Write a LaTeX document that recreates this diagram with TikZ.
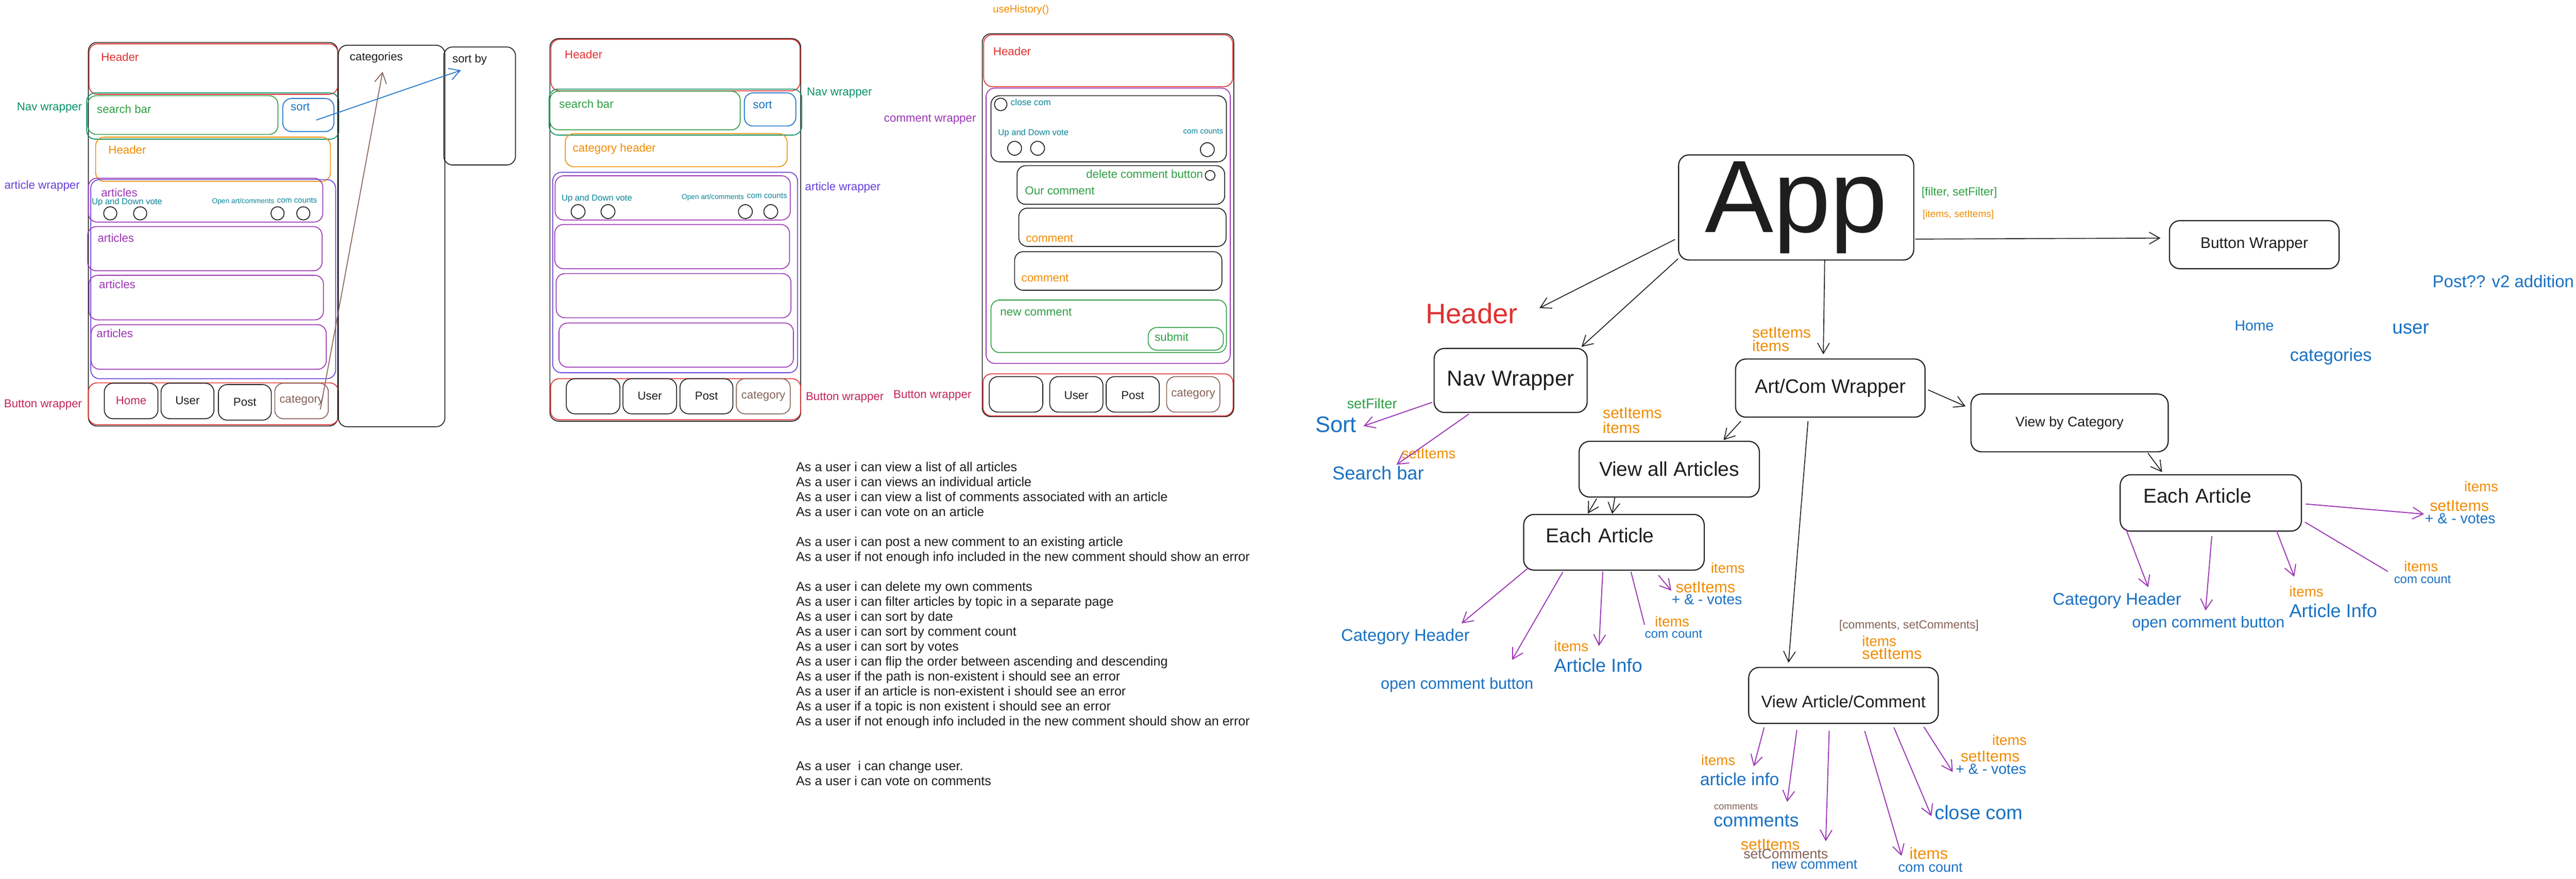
\documentclass[tikz,border=0pt]{standalone}
\usepackage{fontspec}
\setmainfont{Liberation Sans}
\usetikzlibrary{arrows.meta}
\definecolor{inkc}{HTML}{1E1E1E}
\definecolor{xred}{HTML}{E03131}
\definecolor{xgreen}{HTML}{2F9E44}
\definecolor{xteal}{HTML}{099268}
\definecolor{xblue}{HTML}{1971C2}
\definecolor{xorange}{HTML}{F08C00}
\definecolor{xviolet}{HTML}{6741D9}
\definecolor{xgrape}{HTML}{9C36B5}
\definecolor{xpink}{HTML}{C2255C}
\definecolor{xbrown}{HTML}{846358}
\definecolor{xcyan}{HTML}{0C8599}
\newcommand{\fsz}[1]{\fontsize{#1}{#1}\selectfont}
\begin{document}
\begin{tikzpicture}[
  wf/.style={line width=0.7pt, rounded corners=0.25cm},
  lbl/.style={anchor=west, inner sep=0pt, font=\fsz{9.4}},
  btn/.style={inner sep=0pt, font=\fsz{9.4}},
  tl/.style={anchor=west, inner sep=0pt},
  tbox/.style={draw=inkc, line width=0.9pt, rounded corners=0.3cm, inner sep=0pt, text=inkc},
  arr/.style={-{Straight Barb[length=3mm,width=3.4mm]}, line width=0.7pt, draw=inkc},
  parr/.style={arr, draw=xgrape, line width=0.8pt}]
\fill[white] (0,0) rectangle (74.06,-25.25);
\useasboundingbox (0,0) rectangle (74.06,-25.25);

% screen 1: article list
\draw[wf,inkc] (2.54,-1.22) rectangle (9.71,-12.24);
\draw[wf,xred] (2.56,-1.26) rectangle (9.71,-2.71);
\draw[wf,xteal] (2.49,-2.67) rectangle (9.74,-4.00);
\draw[wf,xgreen] (2.52,-2.75) rectangle (7.99,-3.86);
\draw[wf,xblue] (8.13,-2.83) rectangle (9.60,-3.78);
\draw[wf,xorange] (2.75,-3.94) rectangle (9.50,-5.21);
\draw[wf,xviolet] (2.61,-5.16) rectangle (9.65,-10.88);
\draw[wf,xgrape] (2.54,-5.12) rectangle (9.28,-6.38);
\draw[wf,xgrape] (2.52,-6.51) rectangle (9.26,-7.78);
\draw[wf,xgrape] (2.56,-7.91) rectangle (9.30,-9.19);
\draw[wf,xgrape] (2.62,-9.33) rectangle (9.38,-10.61);
\draw[wf,xred] (2.54,-11.00) rectangle (9.73,-12.20);
\draw[wf,inkc] (3.00,-11.01) rectangle (4.54,-12.03);
\draw[wf,inkc] (4.63,-11.01) rectangle (6.15,-12.03);
\draw[wf,inkc] (6.28,-11.05) rectangle (7.80,-12.07);
\draw[wf,xbrown] (7.90,-11.01) rectangle (9.44,-12.03);
\draw[wf,inkc] (9.73,-1.30) rectangle (12.79,-12.26);
\draw[wf,inkc] (12.76,-1.35) rectangle (14.82,-4.74);
\foreach \x in {3.17,4.03,7.98,8.72} \draw[inkc,line width=0.7pt] (\x,-6.13) circle (0.19);
\node[lbl,xred] (s1hdr) at (2.90,-1.64) {Header};
\node[lbl,xgreen] (s1srch) at (2.78,-3.13) {search bar};
\node[lbl,xblue] (s1sort) at (8.35,-3.07) {sort};
\node[lbl,xteal] (s1nav) at (0.48,-3.10) {Nav wrapper};
\node[lbl,xorange] (s1ahdr) at (3.11,-4.30) {Header};
\node[lbl,xviolet] (s1artw) at (0.12,-5.35) {article wrapper};
\node[lbl,xgrape] (s1art1) at (2.90,-5.53) {articles};
\node[lbl,xcyan,font=\fsz{7}] (s1vote) at (2.63,-5.81) {Up and Down vote};
\node[lbl,xcyan,font=\fsz{5.8}] (s1open) at (6.09,-5.79) {Open art/comments};
\node[lbl,xcyan,font=\fsz{6.4}] (s1cc) at (7.96,-5.75) {com counts};
\node[lbl,xgrape] (s1art2) at (2.80,-6.84) {articles};
\node[lbl,xgrape] (s1art3) at (2.84,-8.17) {articles};
\node[lbl,xgrape] (s1art4) at (2.77,-9.58) {articles};
\node[lbl,xpink] (s1btnw) at (0.11,-11.63) {Button wrapper};
\node[btn,xpink] (s1home) at (3.77,-11.51) {Home};
\node[btn,inkc] (s1user) at (5.39,-11.51) {User};
\node[btn,inkc] (s1post) at (7.04,-11.55) {Post};
\node[btn,xbrown] (s1cat) at (8.67,-11.51) {category};
\node[lbl,inkc] (s1cats) at (10.05,-1.66) {categories};
\node[lbl,inkc] (s1sortby) at (13.00,-1.72) {sort by};
\coordinate (s1a) at (9.09,-3.45);
\coordinate (s1b) at (13.25,-2.02);
\draw[arr,xblue] (s1a) -- (s1b);
\coordinate (s1c) at (9.21,-11.76);
\coordinate (s1d) at (11.00,-2.06);
\draw[arr,xbrown] (s1c) -- (s1d);

% screen 2: by category
\draw[wf,inkc] (15.81,-1.11) rectangle (23.02,-12.10);
\draw[wf,xred] (15.84,-1.13) rectangle (23.00,-2.61);
\draw[wf,xteal] (15.79,-2.56) rectangle (23.05,-3.88);
\draw[wf,xgreen] (15.81,-2.62) rectangle (21.28,-3.73);
\draw[wf,xblue] (21.40,-2.67) rectangle (22.88,-3.62);
\draw[wf,xorange] (16.25,-3.84) rectangle (22.63,-4.79);
\draw[wf,xviolet] (15.89,-4.95) rectangle (22.93,-10.71);
\draw[wf,xgrape] (15.96,-5.05) rectangle (22.72,-6.32);
\draw[wf,xgrape] (15.95,-6.45) rectangle (22.70,-7.72);
\draw[wf,xgrape] (15.99,-7.86) rectangle (22.74,-9.13);
\draw[wf,xgrape] (16.07,-9.28) rectangle (22.81,-10.55);
\draw[wf,xred] (15.83,-10.88) rectangle (23.02,-12.06);
\draw[wf,inkc] (16.28,-10.88) rectangle (17.82,-11.89);
\draw[wf,inkc] (17.91,-10.88) rectangle (19.45,-11.89);
\draw[wf,inkc] (19.55,-10.88) rectangle (21.07,-11.89);
\draw[wf,xbrown] (21.17,-10.88) rectangle (22.72,-11.89);
\foreach \x in {16.62,17.48,21.43,22.16} \draw[inkc,line width=0.7pt] (\x,-6.08) circle (0.2);
\node[lbl,xred] (s2hdr) at (16.23,-1.57) {Header};
\node[lbl,xgreen] (s2srch) at (16.07,-2.98) {search bar};
\node[lbl,xblue] (s2sort) at (21.64,-3.02) {sort};
\node[lbl,xteal] (s2nav) at (23.19,-2.67) {Nav wrapper};
\node[lbl,xorange] (s2chdr) at (16.46,-4.27) {category header};
\node[lbl,xviolet] (s2artw) at (23.14,-5.39) {article wrapper};
\node[lbl,xcyan,font=\fsz{7}] (s2vote) at (16.14,-5.70) {Up and Down vote};
\node[lbl,xcyan,font=\fsz{5.8}] (s2open) at (19.59,-5.67) {Open art/comments};
\node[lbl,xcyan,font=\fsz{6.4}] (s2cc) at (21.47,-5.63) {com counts};
\node[lbl,xpink] (s2btnw) at (23.16,-11.42) {Button wrapper};
\node[btn,inkc] (s2user) at (18.68,-11.38) {User};
\node[btn,inkc] (s2post) at (20.31,-11.38) {Post};
\node[btn,xbrown] (s2cat) at (21.945,-11.38) {category};

% screen 3: article and comments
\node[lbl,xorange,font=\fsz{8.5}] (s3hist) at (28.54,-0.29) {useHistory()};
\draw[wf,inkc] (28.24,-0.97) rectangle (35.47,-11.97);
\draw[wf,xred] (28.28,-1.00) rectangle (35.44,-2.49);
\draw[wf,xgrape] (28.35,-2.53) rectangle (35.37,-10.44);
\draw[wf,inkc] (28.49,-2.75) rectangle (35.26,-4.65);
\draw[wf,inkc] (29.24,-4.76) rectangle (35.21,-5.87);
\draw[wf,inkc] (29.29,-5.98) rectangle (35.25,-7.08);
\draw[wf,inkc] (29.17,-7.23) rectangle (35.13,-8.34);
\draw[wf,xgreen] (28.49,-8.62) rectangle (35.26,-10.13);
\draw[wf,xgreen] (33.01,-9.41) rectangle (35.17,-10.06);
\draw[wf,xred] (28.26,-10.74) rectangle (35.45,-11.95);
\draw[wf,inkc] (28.44,-10.82) rectangle (29.98,-11.84);
\draw[wf,inkc] (30.18,-10.82) rectangle (31.71,-11.84);
\draw[wf,inkc] (31.80,-10.82) rectangle (33.33,-11.84);
\draw[wf,xbrown] (33.54,-10.82) rectangle (35.07,-11.84);
\draw[inkc,line width=0.7pt] (28.77,-3.00) circle (0.18);
\foreach \x/\y in {29.17/-4.26,29.83/-4.26,34.71/-4.30} \draw[inkc,line width=0.7pt] (\x,\y) circle (0.2);
\draw[inkc,line width=0.7pt] (34.79,-5.04) circle (0.14);
\node[lbl,xred] (s3hdr) at (28.55,-1.47) {Header};
\node[lbl,xgrape] (s3cw) at (25.41,-3.43) {comment wrapper};
\node[lbl,xcyan,font=\fsz{7.3}] (s3close) at (29.05,-2.93) {close com};
\node[lbl,xcyan,font=\fsz{7}] (s3vote) at (28.69,-3.83) {Up and Down vote};
\node[lbl,xcyan,font=\fsz{6.4}] (s3cc) at (34.01,-3.77) {com counts};
\node[lbl,xgreen] (s3del) at (31.22,-5.00) {delete comment button};
\node[lbl,xgreen] (s3our) at (29.46,-5.48) {Our comment};
\node[lbl,xorange] (s3com1) at (29.49,-6.85) {comment};
\node[lbl,xorange] (s3com2) at (29.36,-7.99) {comment};
\node[lbl,xgreen] (s3new) at (28.75,-8.96) {new comment};
\node[lbl,xgreen] (s3sub) at (33.19,-9.68) {submit};
\node[lbl,xpink] (s3btnw) at (25.68,-11.36) {Button wrapper};
\node[btn,inkc] (s3user) at (30.945,-11.36) {User};
\node[btn,inkc] (s3post) at (32.565,-11.36) {Post};
\node[btn,xbrown] (s3cat) at (34.305,-11.33) {category};

% user stories
\foreach \n/\s in {0/As a user i can view a list of all articles,
  1/As a user i can views an individual article,
  2/As a user i can view a list of comments associated with an article,
  3/As a user i can vote on an article,
  5/As a user i can post a new comment to an existing article,
  6/As a user if not enough info included in the new comment should show an error,
  8/As a user i can delete my own comments,
  9/As a user i can filter articles by topic in a separate page,
  10/As a user i can sort by date,
  11/As a user i can sort by comment count,
  12/As a user i can sort by votes,
  13/As a user i can flip the order between ascending and descending,
  14/As a user if the path is non-existent i should see an error,
  15/As a user if an article is non-existent i should see an error,
  16/As a user if a topic is non existent i should see an error,
  17/As a user if not enough info included in the new comment should show an error,
  20/As a user\ \ i can change user.,
  21/As a user i can vote on comments}
  \node[anchor=base west,inner sep=0pt,font=\fsz{10.6},inkc] (us\n) at (22.88,{-13.54-0.43*\n}) {\s};

% component tree
\node[tbox,minimum width=6.76cm,minimum height=3.02cm,font=\fsz{84}] (app) at (51.64,-5.96) {App};
\node[tbox,minimum width=4.88cm,minimum height=1.38cm,font=\fsz{12.6}] (btnw) at (64.81,-7.03) {Button Wrapper};
\node[tbox,minimum width=5.45cm,minimum height=1.67cm,font=\fsz{15.9}] (artcom) at (52.62,-11.15) {Art/Com Wrapper};
\node[tbox,minimum width=4.40cm,minimum height=1.84cm,font=\fsz{17.7}] (navw) at (43.43,-10.93) {Nav Wrapper};
\node[tbox,minimum width=5.18cm,minimum height=1.60cm,font=\fsz{16.4}] (viewall) at (47.99,-13.48) {View all Articles};
\node[tbox,minimum width=5.19cm,minimum height=1.60cm,font=\fsz{16.4},text width=3.91cm,align=left,text depth=0.4cm] (each1) at (46.40,-15.58) {Each Article};
\node[tbox,minimum width=5.45cm,minimum height=1.61cm,font=\fsz{13.7},text height=0.71cm] (viewac) at (53.00,-19.98) {View Article/Comment};
\node[tbox,minimum width=5.67cm,minimum height=1.66cm,font=\fsz{11.3}] (viewcat) at (59.50,-12.15) {View by Category};
\node[tbox,minimum width=5.21cm,minimum height=1.62cm,font=\fsz{16.4},text width=3.88cm,align=left,text depth=0.42cm] (each2) at (63.56,-14.45) {Each Article};

\node[tl,xred,font=\fsz{23}] (hdr) at (40.98,-9.01) {Header};
\node[tl,xgreen,font=\fsz{9.5}] (filt) at (55.24,-5.53) {[filter, setFilter]};
\node[tl,xorange,font=\fsz{8}] (itst) at (55.27,-6.17) {[items, setItems]};
\node[tl,xblue,font=\fsz{13.9}] (post) at (69.93,-8.08) {Post?? v2 addition};
\node[tl,xblue,font=\fsz{12}] (home) at (64.24,-9.36) {Home};
\node[tl,xblue,font=\fsz{15.5}] (user) at (68.77,-9.45) {user};
\node[tl,xblue,font=\fsz{14.5}] (cats) at (65.83,-10.25) {categories};
\node[tl,xorange,font=\fsz{12.7}] (acset) at (50.37,-9.56) {setItems};
\node[tl,xorange,font=\fsz{12.7}] (acit) at (50.37,-9.94) {items};
\node[tl,xgreen,font=\fsz{11.5}] (sfilt) at (38.72,-11.59) {setFilter};
\node[tl,xblue,font=\fsz{18.3}] (sort) at (37.81,-12.20) {Sort};
\node[tl,xorange,font=\fsz{11.7}] (srset) at (40.29,-13.03) {setItems};
\node[tl,xblue,font=\fsz{15.3}] (srch) at (38.30,-13.59) {Search bar};
\node[tl,xorange,font=\fsz{12.8}] (vaset) at (46.07,-11.86) {setItems};
\node[tl,xorange,font=\fsz{12.8}] (vait) at (46.07,-12.29) {items};

\node[tl,xorange,font=\fsz{11.6}] (e1it1) at (49.18,-16.32) {items};
\node[tl,xorange,font=\fsz{12.9}] (e1set) at (48.17,-16.87) {setItems};
\node[tl,xblue,font=\fsz{12}] (e1vote) at (48.05,-17.22) {+ \& - votes};
\node[tl,xorange,font=\fsz{11.8}] (e1it2) at (47.57,-17.85) {items};
\node[tl,xblue,font=\fsz{10.2}] (e1cc) at (47.28,-18.22) {com count};
\node[tl,xblue,font=\fsz{13.8}] (e1ch) at (38.55,-18.30) {Category Header};
\node[tl,xblue,font=\fsz{12.9}] (e1open) at (39.69,-19.68) {open comment button};
\node[tl,xorange,font=\fsz{11.8}] (e1it3) at (44.67,-18.56) {items};
\node[tl,xblue,font=\fsz{15.3}] (e1info) at (44.67,-19.11) {Article Info};

\node[tl,xbrown,font=\fsz{9.6}] (vcst) at (52.87,-17.97) {[comments, setComments]};
\node[tl,xorange,font=\fsz{11.7}] (vcit) at (53.53,-18.42) {items};
\node[tl,xorange,font=\fsz{12.9}] (vcset) at (53.53,-18.79) {setItems};
\node[tl,xorange,font=\fsz{11.7}] (vcit1) at (48.90,-21.84) {items};
\node[tl,xblue,font=\fsz{14.2}] (vcinfo) at (48.87,-22.38) {article info};
\node[tl,xbrown,font=\fsz{7.8}] (vccs) at (49.27,-23.17) {comments};
\node[tl,xblue,font=\fsz{15.1}] (vccom) at (49.26,-23.58) {comments};
\node[tl,xorange,font=\fsz{12.8}] (vcset1) at (50.04,-24.26) {setItems};
\node[tl,xbrown,font=\fsz{11.2}] (vcsetc) at (50.12,-24.53) {setComments};
\node[tl,xblue,font=\fsz{11.3}] (vcnew) at (50.92,-24.84) {new comment};
\node[tl,xorange,font=\fsz{13.2}] (vcit2) at (54.89,-24.52) {items};
\node[tl,xblue,font=\fsz{11.4}] (vccc) at (54.57,-24.92) {com count};
\node[tl,xblue,font=\fsz{16}] (vcclose) at (55.62,-23.34) {close com};
\node[tl,xorange,font=\fsz{11.8}] (vcit3) at (57.27,-21.26) {items};
\node[tl,xorange,font=\fsz{12.8}] (vcset2) at (56.36,-21.73) {setItems};
\node[tl,xblue,font=\fsz{12}] (vcvote) at (56.22,-22.10) {+ \& - votes};

\node[tl,xblue,font=\fsz{13.8}] (e2ch) at (59.01,-17.25) {Category Header};
\node[tl,xblue,font=\fsz{12.9}] (e2open) at (61.29,-17.92) {open comment button};
\node[tl,xorange,font=\fsz{11.7}] (e2it1) at (65.81,-17.00) {items};
\node[tl,xblue,font=\fsz{15.2}] (e2info) at (65.81,-17.54) {Article Info};
\node[tl,xorange,font=\fsz{11.6}] (e2it2) at (69.11,-16.28) {items};
\node[tl,xblue,font=\fsz{10.1}] (e2cc) at (68.82,-16.65) {com count};
\node[tl,xorange,font=\fsz{11.6}] (e2it3) at (70.84,-13.98) {items};
\node[tl,xorange,font=\fsz{12.8}] (e2set) at (69.85,-14.53) {setItems};
\node[tl,xblue,font=\fsz{12}] (e2vote) at (69.71,-14.90) {+ \& - votes};

\coordinate (hdrtip) at (44.26,-8.85);
\draw[arr] ([shift={(-0.09,-0.92)}]app.west) -- (hdrtip);
\draw[arr] ([yshift=0.05cm]app.south west) -- ([shift={(-0.18,0.03)}]navw.north east);
\draw[arr] ([shift={(0.03,-0.91)}]app.east) -- ([shift={(-0.24,0.19)}]btnw.west);
\draw[arr] ([shift={(0.82,0.03)}]app.south) -- ([shift={(-0.2,0.12)}]artcom.north);
\draw[arr] ([shift={(0.17,-0.10)}]artcom.south west) -- ([shift={(1.56,0.02)}]viewall.north);
\draw[arr] ([shift={(-0.64,-0.10)}]artcom.south) -- ([shift={(-1.58,0.12)}]viewac.north);
\draw[arr] ([shift={(0.07,-0.05)}]artcom.east) -- ([shift={(-0.14,-0.37)}]viewcat.north west);
\draw[arr] ([shift={(0.52,-0.03)}]viewall.south west) -- ([shift={(1.86,0.01)}]each1.north west);
\draw[arr] ([shift={(1.04,0)}]viewall.south west) -- ([shift={(2.56,0)}]each1.north west);
\draw[arr] ([shift={(-0.60,-0.02)}]viewcat.south east) -- ([shift={(1.22,0.06)}]each2.north west);

\coordinate (sorttip) at (39.20,-12.24);
\draw[parr] ([shift={(-0.04,-0.63)}]navw.west) -- (sorttip);
\coordinate (srchtip) at (40.15,-13.35);
\draw[parr] ([shift={(-1.20,-0.03)}]navw.south) -- (srchtip);

\foreach \i/\sx/\sy/\tx/\ty in {1/0.15/0.08/42.02/-17.91, 2/1.14/-0.04/43.47/-18.96,
    3/2.29/-0.03/45.97/-18.56, 4/3.89/-0.13/48.05/-16.97}{
  \coordinate (e1t\i) at (\tx,\ty);
  \draw[parr] ([shift={(\sx,\sy)}]each1.south west) -- (e1t\i);
}
\coordinate (e1end) at (47.28,-17.95);
\draw[xgrape,line width=0.8pt] ([shift={(3.10,-0.03)}]each1.south west) -- (e1end);

\foreach \i/\sx/\sy/\tx/\ty in {1/0.46/-0.10/50.42/-22.02, 2/1.40/-0.17/51.38/-23.04,
    3/2.33/-0.19/52.49/-24.17, 4/3.35/-0.20/54.67/-24.59,
    5/4.19/-0.10/55.53/-23.45, 6/5.05/-0.08/56.14/-22.18}{
  \coordinate (vct\i) at (\tx,\ty);
  \draw[parr] ([shift={(\sx,\sy)}]viewac.south west) -- (vct\i);
}

\foreach \i/\sx/\sy/\tx/\ty in {1/0.18/0.08/61.76/-16.87, 2/2.65/-0.13/63.41/-17.54,
    3/4.51/0.03/65.96/-16.57}{
  \coordinate (e2t\i) at (\tx,\ty);
  \draw[parr] ([shift={(\sx,\sy)}]each2.south west) -- (e2t\i);
}
\coordinate (e2end) at (68.65,-16.42);
\draw[xgrape,line width=0.8pt] ([shift={(0.085,-0.55)}]each2.east) -- (e2end);
\coordinate (e2t4) at (69.69,-14.77);
\draw[parr] ([shift={(0.105,-0.03)}]each2.east) -- (e2t4);
\end{tikzpicture}
\end{document}
